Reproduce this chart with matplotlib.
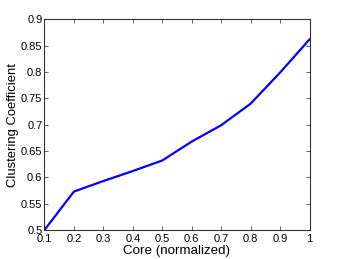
import matplotlib
matplotlib.use("Agg")
import matplotlib.pyplot as plt

core = [0.1, 0.2, 0.3, 0.4, 0.5, 0.6, 0.7, 0.8, 0.9, 1.0]
clustering = [0.500, 0.573, 0.593, 0.612, 0.632, 0.668, 0.699, 0.740, 0.799, 0.862]
xticks = [0.1, 0.2, 0.3, 0.4, 0.5, 0.6, 0.7, 0.8, 0.9, 1.0]
xticklabels = ["0.1", "0.2", "0.3", "0.4", "0.5", "0.6", "0.7", "0.8", "0.9", "1"]
yticks = [0.5, 0.55, 0.6, 0.65, 0.7, 0.75, 0.8, 0.85, 0.9]
yticklabels = ["0.5", "0.55", "0.6", "0.65", "0.7", "0.75", "0.8", "0.85", "0.9"]

plt.rcParams['font.family'] = ['Liberation Sans', 'DejaVu Sans']

fig = plt.figure(figsize=(3.42, 2.59), dpi=100)
ax = fig.add_axes([0.130, 0.112, 0.775, 0.813])
ax.plot(core, clustering, color=(0, 0, 1), linewidth=1.6)
ax.set_xlim(0.1, 1.0)
ax.set_ylim(0.5, 0.9)
ax.set_xticks(xticks)
ax.set_xticklabels(xticklabels)
ax.set_yticks(yticks)
ax.set_yticklabels(yticklabels)
ax.tick_params(direction='in', top=True, right=True, labelsize=8, length=3,
               width=0.5, pad=1.5, colors='#222222', labelcolor='black')
ax.tick_params(axis='x', pad=3)
for s in ax.spines.values():
    s.set_linewidth(0.8)
    s.set_color('#333333')
ax.set_xlabel("Core (normalized)", fontsize=9.6, labelpad=0.3)
ax.set_ylabel("Clustering Coefficient", fontsize=9.4, labelpad=1)
fig.savefig("out.png", dpi=100)
